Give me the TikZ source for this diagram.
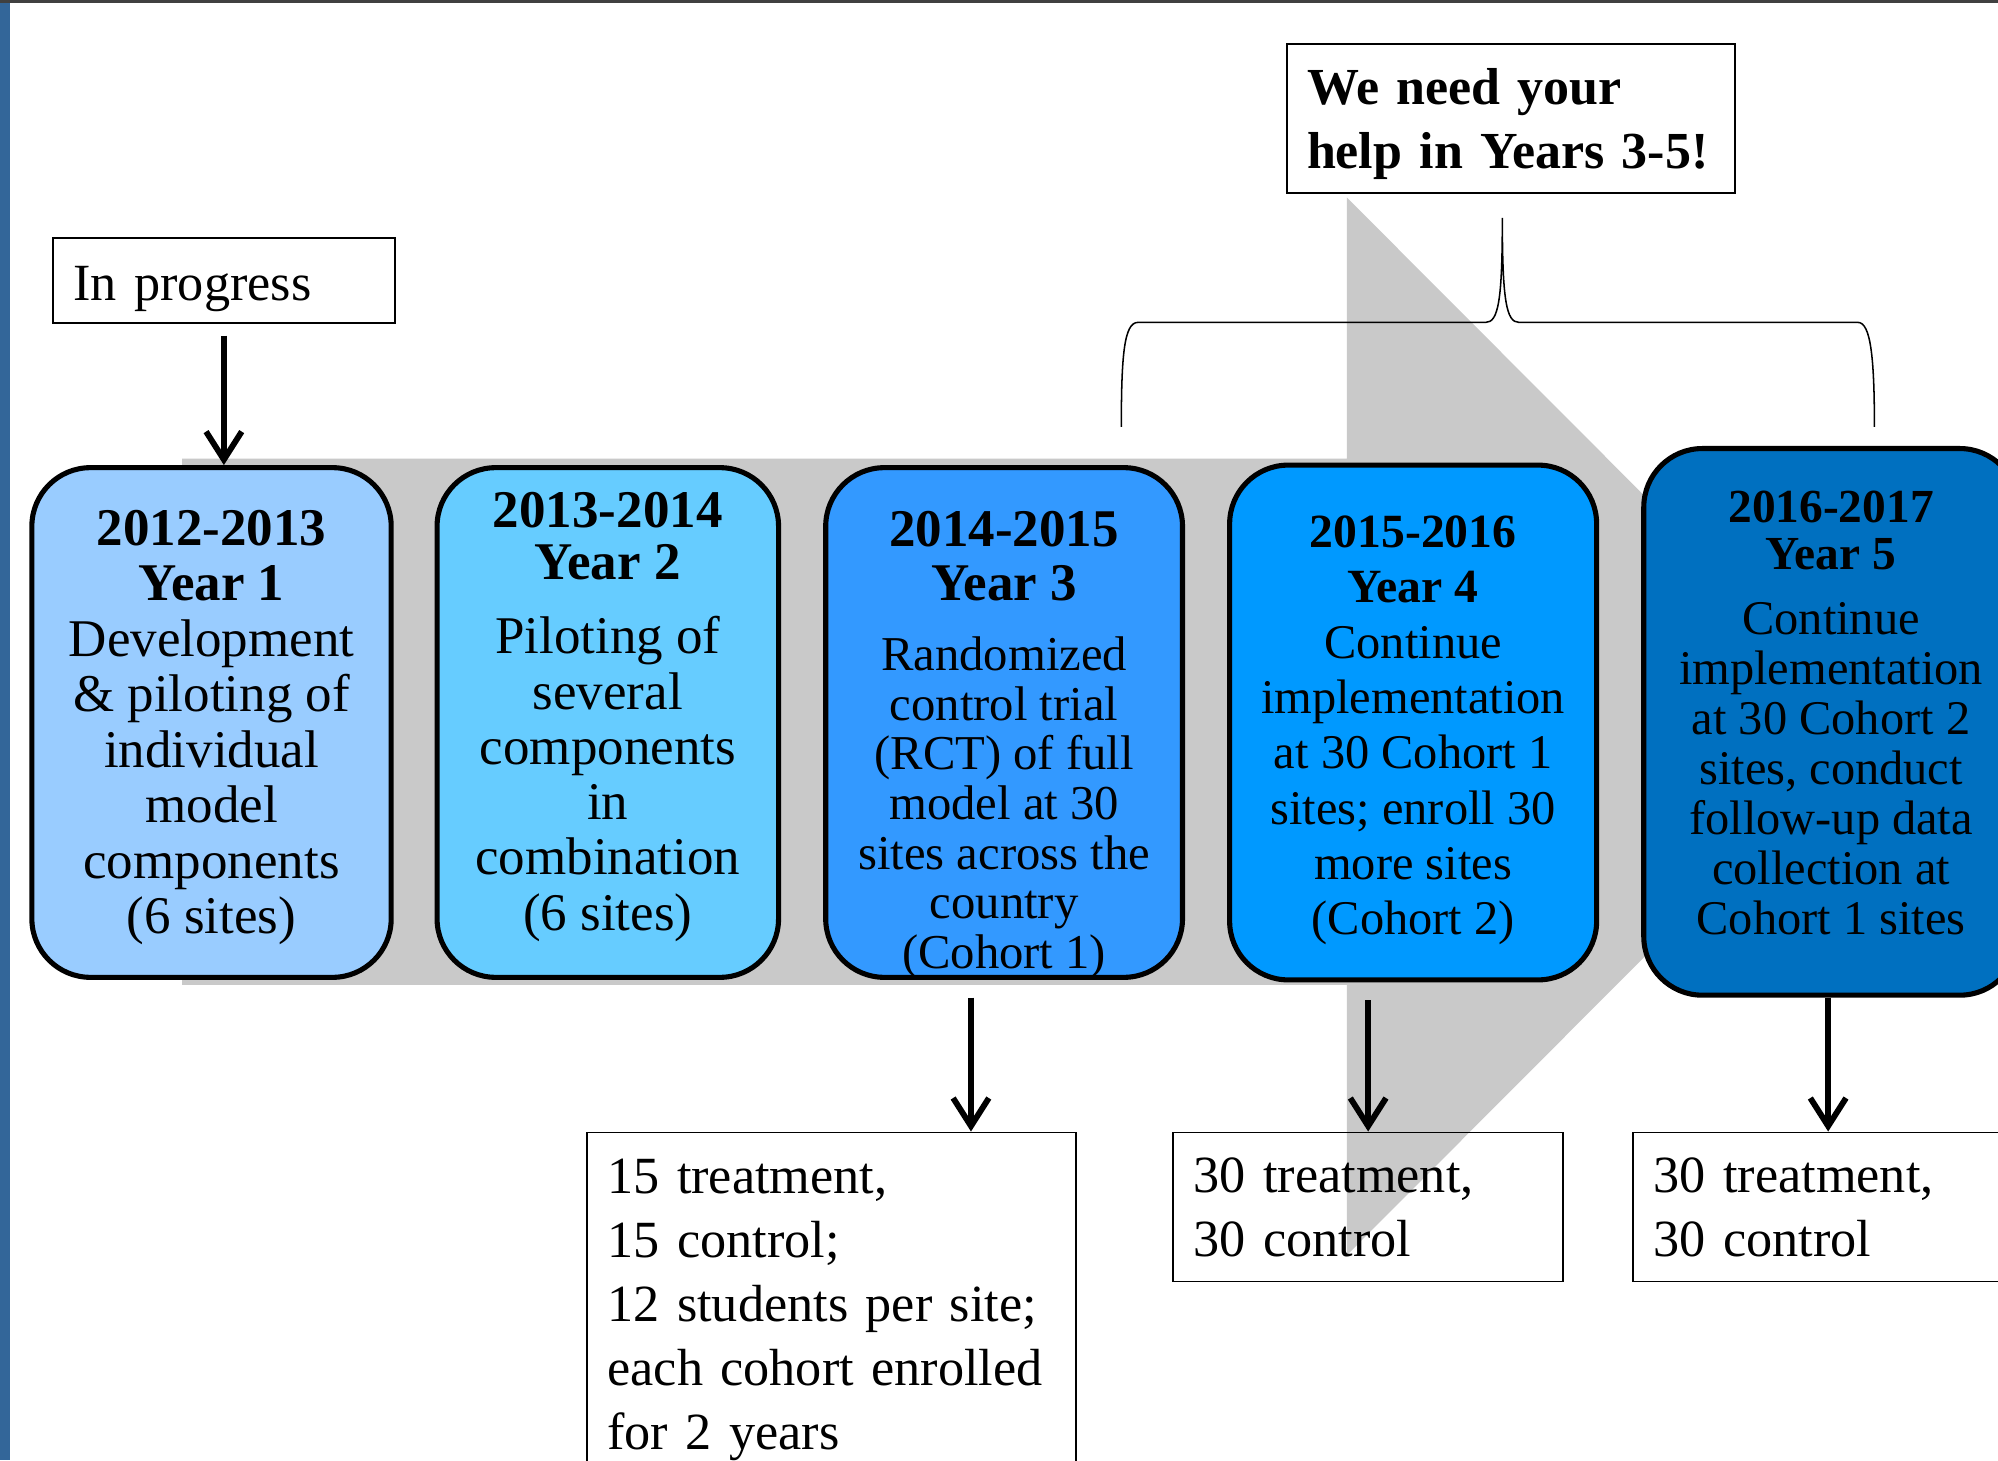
\documentclass[tikz,border=0pt]{standalone}
\usepackage{fontspec}
\setmainfont{Liberation Serif}
\usetikzlibrary{arrows.meta}
\tikzstyle{slide} = [x = .5pt, y = -.5pt]
\definecolor{yearOneColor}{HTML}{99CCFF}
\definecolor{yearTwoColor}{HTML}{66CCFF}
\definecolor{yearThreeColor}{HTML}{3399FF}
\definecolor{yearFourColor}{HTML}{0099FF}
\definecolor{yearFiveColor}{HTML}{0070C0}
\definecolor{bandColor}{HTML}{C9C9C9}
\definecolor{slideBlue}{HTML}{336699}
\definecolor{topLineColor}{HTML}{404040}
\tikzstyle{yearBoxStyle} = [draw=black, line width=2pt, rounded corners=23pt, inner sep=0pt]
\tikzstyle{yearText} = [align=center, inner sep=0pt, anchor=north]
\tikzstyle{noteStyle} = [draw=black, line width=.7pt, align=left, inner xsep=8pt, inner ysep=0pt, anchor=north west]
\tikzstyle{arrowStyle} = [-{Straight Barb[length=11pt, width=14pt]}, line width=2.3pt]
\tikzstyle{braceStyle} = [line width=.6pt]
\newcommand{\yearBox}[6]{\node [yearBoxStyle, fill=#2, minimum width=#5, minimum height=#6] (#1) at (#3,#4) {};}
\newcommand{\titleFont}[1]{\fontsize{#1}{#1}\selectfont\bfseries}

\begin{document}
\begin{tikzpicture}[slide]
  \useasboundingbox (0,0) rectangle (1568,1146);
  \fill [white] (0,0) rectangle (1568,1146);
  \fill [slideBlue] (0,0) rectangle (7.5,1146);
  \draw [topLineColor, line width=1pt] (0,1) -- (1568,1);
  % big gray arrow behind the years
  \fill [bandColor] (143,360) -- (1057,360) -- (1057,155) -- (1471,570) -- (1057,985) -- (1057,773) -- (143,773) -- cycle;
  \yearBox{yearOne}{yearOneColor}{166}{567}{141pt}{200pt}
  \yearBox{yearTwo}{yearTwoColor}{477}{567}{134pt}{200pt}
  \yearBox{yearThree}{yearThreeColor}{788}{567}{140pt}{200pt}
  \yearBox{yearFour}{yearFourColor}{1109}{567}{144pt}{202pt}
  \yearBox{yearFive}{yearFiveColor}{1437}{566.5}{147pt}{214.5pt}
  \node [yearText, font=\fontsize{20.8}{21.75}\selectfont] (yearOneText) at (166,400)
    {\bfseries 2012-2013\\ \bfseries Year 1\\ Development\\ \& piloting of\\ individual\\ model\\ components\\ (6 sites)};
  \node [yearText, font=\fontsize{20.8}{21.7}\selectfont] (yearTwoText) at (477,386)
    {\bfseries 2013-2014\\[-1.2pt] \bfseries Year 2\\[7.3pt] Piloting of\\ several\\ components\\ in\\ combination\\ (6 sites)};
  \node [yearText, font=\fontsize{19.1}{19.5}\selectfont] (yearThreeText) at (788,401)
    {\titleFont{20.8}2014-2015\\[1.5pt] \titleFont{20.8}Year 3\\[8pt] Randomized\\ control trial\\ (RCT) of full\\ model at 30\\ sites across the\\ country\\ (Cohort 1)};
  \node [yearText, font=\fontsize{19}{21.7}\selectfont] (yearFourText) at (1109,404.5)
    {\titleFont{18.7}2015-2016\\ \titleFont{18.7}Year 4\\ Continue\\ implementation\\ at 30 Cohort 1\\ sites; enroll 30\\ more sites\\ (Cohort 2)};
  \node [yearText, font=\fontsize{19}{19.6}\selectfont] (yearFiveText) at (1437,385)
    {\titleFont{18.6}2016-2017\\[-1.1pt] \titleFont{18.6}Year 5\\[5.9pt] Continue\\ implementation\\ at 30 Cohort 2\\ sites, conduct\\ follow-up data\\ collection at\\ Cohort 1 sites};
  % notes
  \node [noteStyle, text width=118pt, minimum height=33.5pt, text height=20pt, font=\fontsize{20.5}{25}\selectfont] (inProgress) at (41,186) {In progress};
  \node [noteStyle, fill=white, text width=160pt, minimum height=58.5pt, text height=18pt, font=\fontsize{20.4}{25}\selectfont\bfseries] (needHelp) at (1009,34) {We need your\\ help in Years 3-5!};
  \node [noteStyle, text width=176pt, minimum height=135.5pt, text height=17pt, font=\fontsize{20.5}{25.1}\selectfont] (resultThree) at (460,888)
    {15 treatment,\\ 15 control;\\ 12 students per site;\\ each cohort enrolled\\ for 2 years};
  \node [noteStyle, text width=137pt, minimum height=58.5pt, text height=14pt, font=\fontsize{20.5}{25.1}\selectfont] (resultFour) at (920,888)
    {30 treatment,\\ 30 control};
  \node [noteStyle, text width=137pt, minimum height=58.5pt, text height=14pt, font=\fontsize{20.5}{25.1}\selectfont] (resultFive) at (1281,888)
    {30 treatment,\\ 30 control};
  % brace over years 3-5
  \draw [braceStyle] (880,335) .. controls (880,280) and (882,253) .. (893,253) -- (1166,253)
    .. controls (1176,253) and (1179,235) .. (1179,171)
    .. controls (1179,235) and (1182,253) .. (1192,253) -- (1458,253)
    .. controls (1468,253) and (1471,280) .. (1471,335);
  % arrows
  \coordinate (arrowThree) at (762,783);
  \draw [arrowStyle] (inProgress.south) ++(0,9) -- (inProgress.south |- yearOne.north);
  \draw [arrowStyle] (arrowThree) -- (arrowThree |- resultThree.north);
  \draw [arrowStyle] (yearFour.south -| resultFour.north) ++(0,14) -- (resultFour.north);
  \draw [arrowStyle] (yearFive.south -| resultFive.north) -- (resultFive.north);
\end{tikzpicture}
\end{document}
